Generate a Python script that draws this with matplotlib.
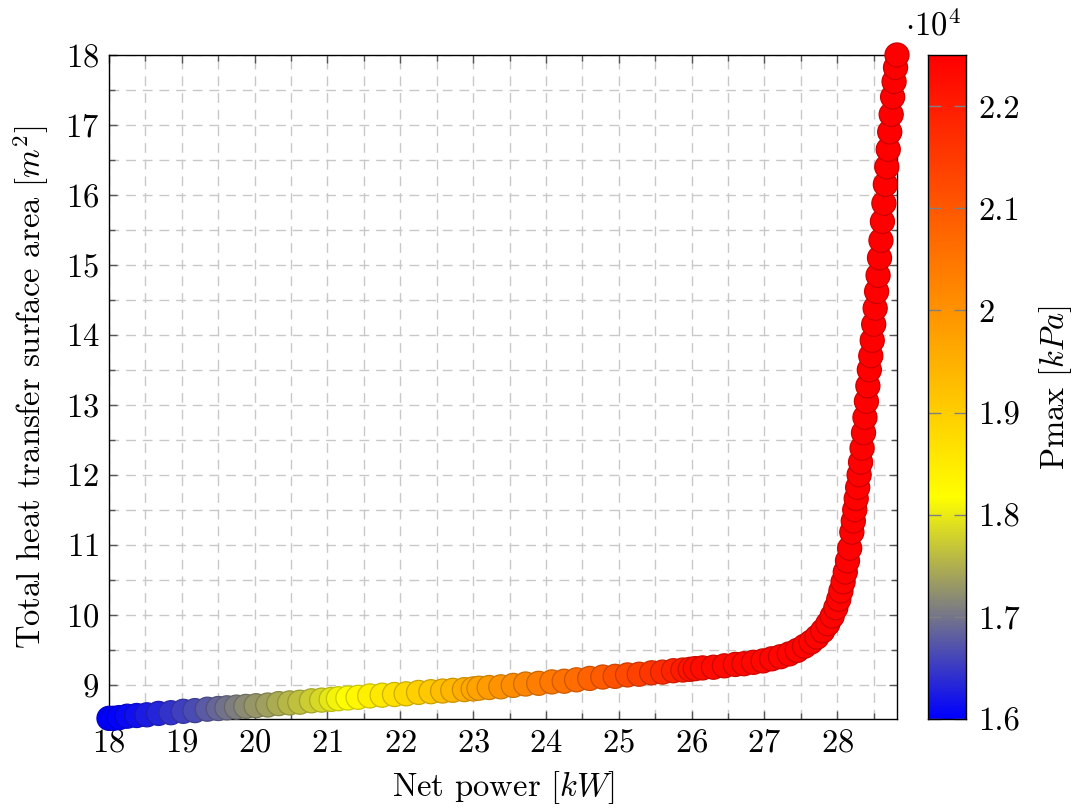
import matplotlib
matplotlib.use("Agg")
import matplotlib.pyplot as plt
import numpy as np
from matplotlib.colors import LinearSegmentedColormap

plt.rcParams["font.family"] = "serif"
plt.rcParams["font.serif"] = ["cmr10", "DejaVu Serif"]
plt.rcParams["mathtext.fontset"] = "cm"
plt.rcParams["axes.formatter.use_mathtext"] = True

# Net power [kW]
net_power = [
    18.00, 18.06, 18.14, 18.25, 18.38, 18.52, 18.68, 18.85, 19.02, 19.18,
    19.35, 19.50, 19.62, 19.75, 19.88, 20.02, 20.18, 20.33, 20.48, 20.62,
    20.78, 20.92, 21.05, 21.15, 21.28, 21.42, 21.58, 21.75, 21.92, 22.08,
    22.25, 22.42, 22.58, 22.72, 22.88, 23.00, 23.08, 23.22, 23.38, 23.55,
    23.72, 23.90, 24.08, 24.25, 24.42, 24.60, 24.78, 24.95, 25.12, 25.28,
    25.45, 25.60, 25.75, 25.88, 25.98, 26.05, 26.15, 26.30, 26.45, 26.60,
    26.72, 26.85, 26.98, 27.10, 27.22, 27.34, 27.45, 27.55, 27.64, 27.72,
    27.80, 27.87, 27.93, 27.98, 28.02, 28.05, 28.08, 28.11, 28.14, 28.17,
    28.20, 28.22, 28.24, 28.26, 28.28, 28.30, 28.32, 28.34, 28.36, 28.38,
    28.40, 28.42, 28.44, 28.46, 28.48, 28.50, 28.52, 28.54, 28.56, 28.58,
    28.60, 28.62, 28.64, 28.66, 28.68, 28.70, 28.72, 28.74, 28.76, 28.78,
    28.80, 28.82,
]

# Total heat transfer surface area [m^2]
surface_area = [
    8.52, 8.52, 8.53, 8.55, 8.56, 8.57, 8.59, 8.60, 8.62, 8.63,
    8.65, 8.66, 8.67, 8.68, 8.69, 8.70, 8.71, 8.73, 8.74, 8.75,
    8.77, 8.78, 8.79, 8.80, 8.81, 8.82, 8.84, 8.85, 8.86, 8.87,
    8.89, 8.90, 8.91, 8.92, 8.93, 8.94, 8.95, 8.96, 8.97, 8.99,
    9.01, 9.02, 9.04, 9.05, 9.07, 9.09, 9.11, 9.12, 9.14, 9.15,
    9.17, 9.18, 9.20, 9.21, 9.22, 9.23, 9.24, 9.25, 9.27, 9.29,
    9.30, 9.32, 9.34, 9.37, 9.40, 9.44, 9.49, 9.55, 9.61, 9.68,
    9.77, 9.87, 9.98, 10.10, 10.22, 10.34, 10.47, 10.61, 10.77, 10.95,
    11.18, 11.34, 11.50, 11.66, 11.82, 12.00, 12.18, 12.38, 12.60, 12.82,
    13.05, 13.27, 13.50, 13.70, 13.92, 14.15, 14.38, 14.62, 14.85, 15.10,
    15.35, 15.62, 15.88, 16.15, 16.40, 16.65, 16.90, 17.15, 17.40, 17.62,
    17.82, 18.00,
]

# Maximum cycle pressure [kPa]
p_max = [
    16000, 16010, 16040, 16080, 16150, 16230, 16330, 16440, 16550, 16650,
    16770, 16880, 16980, 17080, 17180, 17270, 17370, 17460, 17550, 17640,
    17740, 17840, 17960, 18080, 18200, 18300, 18420, 18560, 18700, 18830,
    18980, 19120, 19260, 19400, 19540, 19650, 19730, 19850, 19970, 20100,
    20230, 20350, 20460, 20560, 20670, 20800, 20930, 21080, 21240, 21400,
    21580, 21740, 21900, 22040, 22150, 22230, 22290, 22310, 22330, 22340,
    22350, 22360, 22370, 22380, 22390, 22400, 22405, 22410, 22415, 22420,
    22425, 22430, 22435, 22440, 22443, 22446, 22449, 22452, 22455, 22458,
    22460, 22462, 22464, 22466, 22468, 22470, 22472, 22474, 22476, 22478,
    22480, 22482, 22484, 22485, 22486, 22487, 22488, 22489, 22490, 22491,
    22492, 22493, 22494, 22495, 22496, 22497, 22498, 22498, 22499, 22499,
    22500, 22500,
]

cbar_ticks = [16000, 17000, 18000, 19000, 20000, 21000, 22000]
cbar_ticklabels = ["1.6", "1.7", "1.8", "1.9", "2", "2.1", "2.2"]

cmap = LinearSegmentedColormap.from_list(
    "blueyellowred", [(0, 0, 1), (1, 1, 0), (1, 0.5, 0), (1, 0, 0)])
vmin, vmax = min(p_max), max(p_max)

FS = 23.5
W, H = 1076, 809
fig = plt.figure(figsize=(W / 100, H / 100), dpi=100)
ax = fig.add_axes([109 / W, 1 - 719 / H, (897 - 109) / W, (719 - 55) / H])
cax = fig.add_axes([928 / W, 1 - 719 / H, 38 / W, (719 - 55) / H])

norm = plt.Normalize(vmin, vmax)
face = cmap(norm(np.asarray(p_max)))
edge = face.copy()
edge[:, :3] = face[:, :3] * 0.8

ax.scatter(net_power, surface_area, s=300, c=face, edgecolors=edge,
           linewidths=0.9, zorder=3, clip_on=False)

ax.set_xlim(18, 28.82)
ax.set_ylim(8.51, 18)
ax.set_xticks(range(18, 29))
ax.set_xticks(np.arange(18.5, 28.8, 1.0), minor=True)
ax.set_yticks(range(9, 19))
ax.set_yticks(np.arange(9.5, 18, 1.0), minor=True)
ax.grid(True, which="both", color="#c8c8c8", linestyle=(0, (7, 5)), linewidth=1.0, zorder=0)
ax.set_axisbelow(True)
ax.tick_params(which="both", direction="in", top=True, right=True,
               color="#555555", labelsize=FS, pad=7)
ax.tick_params(which="major", length=6, width=1.0)
ax.tick_params(which="minor", length=4, width=1.0)
for sp in ax.spines.values():
    sp.set_linewidth(1.0)

ax.set_xlabel("Net power [$kW$]", fontsize=FS, labelpad=8)
ax.set_ylabel("Total heat transfer surface area [$m^2$]", fontsize=FS, labelpad=10)

# colour bar
grad = np.linspace(vmin, vmax, 512).reshape(-1, 1)
cax.imshow(grad, aspect="auto", cmap=cmap, origin="lower",
           extent=[0, 1, vmin, vmax], interpolation="bilinear")
cax.set_xlim(0, 1)
cax.set_ylim(vmin, vmax)
cax.set_xticks([])
cax.yaxis.tick_right()
cax.set_yticks(cbar_ticks)
cax.set_yticklabels(cbar_ticklabels)
cax.tick_params(axis="y", which="major", direction="in", length=9, width=1.0,
                color="#808080", labelsize=FS, pad=9, left=True)
for sp in cax.spines.values():
    sp.set_linewidth(1.0)
cax.yaxis.set_label_position("right")
cax.set_ylabel("Pmax [$kPa$]", fontsize=FS, labelpad=12)

fig.text(905 / W, 1 - 36 / H, r"$\cdot10^4$", fontsize=FS, ha="left", va="baseline")

fig.savefig("out.png", dpi=100)
